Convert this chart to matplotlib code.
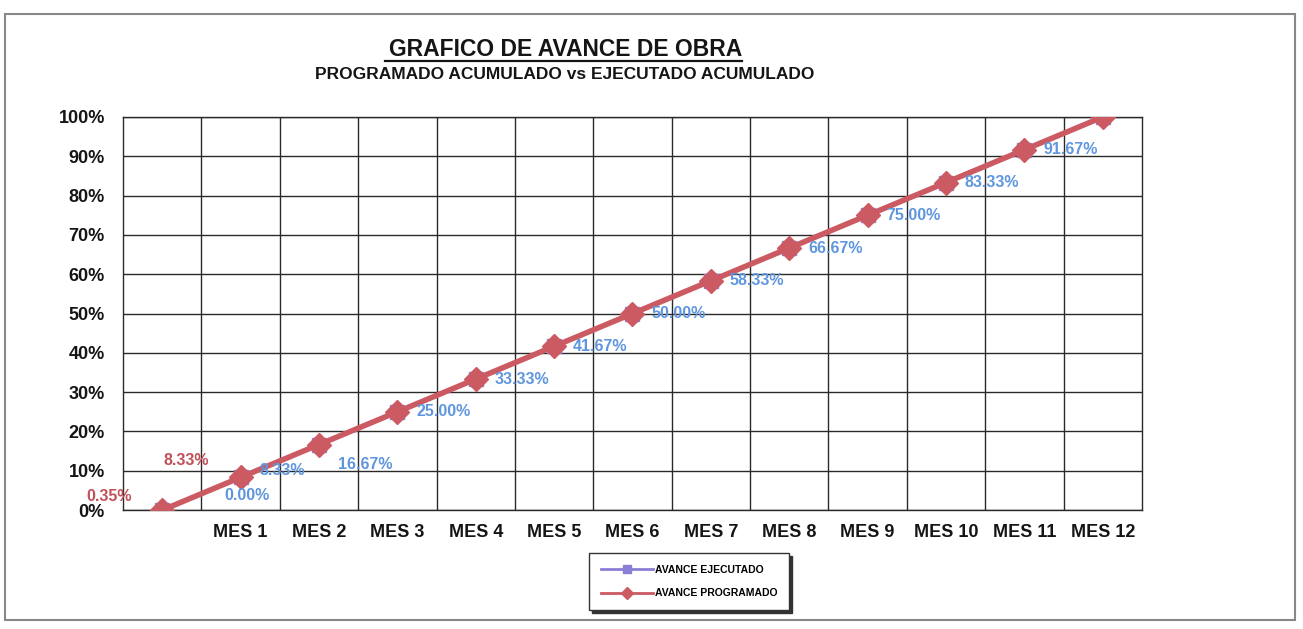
import matplotlib
matplotlib.use('Agg')
import matplotlib.pyplot as plt
from matplotlib.patches import Rectangle
from matplotlib.ticker import FixedLocator

plt.rcParams['font.family'] = ['Liberation Sans', 'DejaVu Sans']
plt.rcParams['font.weight'] = 'bold'

# Months of the schedule (first slot is the starting point, without label)
meses = ['', 'MES 1', 'MES 2', 'MES 3', 'MES 4', 'MES 5', 'MES 6',
         'MES 7', 'MES 8', 'MES 9', 'MES 10', 'MES 11', 'MES 12']

# Accumulated progress (fraction of the work)
avance_programado = [0.0, 0.0833, 0.1667, 0.25, 0.3333, 0.4167, 0.50,
                     0.5833, 0.6667, 0.75, 0.8333, 0.9167, 1.0]
avance_ejecutado = [0.0, 0.0833, 0.1667, 0.25, 0.3333, 0.4167, 0.50,
                    0.5833, 0.6667, 0.75, 0.8333, 0.9167, 1.0]

# Labels that were dragged around by hand in the original sheet
labels_sueltos = ['0.35%', '8.33%']

color_ejec = '#8a7fd6'
color_prog = '#cc5a62'
color_lbl_ejec = '#5f96de'
color_lbl_prog = '#c0505a'
color_txt = '#151515'

fig = plt.figure(figsize=(13.03, 6.29), dpi=100)
ax = fig.add_axes([0.0944, 0.189, 0.782, 0.625])

x = list(range(len(meses)))

ax.plot(x, avance_ejecutado, color=color_ejec, lw=2.5, marker='s', markersize=10,
        label='AVANCE EJECUTADO', zorder=3)
ax.plot(x, avance_programado, color=color_prog, lw=4, marker='D', markersize=12,
        label='AVANCE PROGRAMADO', zorder=4)

# data labels of the executed series, right of each point (dy in pixels, positive = down)
dy = [0, -7, 20, 0, 0, 0, 0, 0, 0, 0, 0, 0]
for i in range(1, 12):
    ax.annotate(f'{avance_ejecutado[i] * 100:.2f}%', (x[i], avance_ejecutado[i]),
                xytext=(19, -dy[i]), textcoords='offset pixels',
                ha='left', va='center', fontsize=11.5, color=color_lbl_ejec, zorder=5)

# starting point label, moved under MES 1
ax.annotate(f'{avance_ejecutado[0] * 100:.2f}%', (x[0], avance_ejecutado[0]),
            xytext=(85, 15), textcoords='offset pixels',
            ha='center', va='center', fontsize=11.5, color=color_lbl_ejec, zorder=5)

# programmed series labels left near the origin
ax.annotate(labels_sueltos[0], (x[0], avance_programado[0]),
            xytext=(-53, 14), textcoords='offset pixels',
            ha='center', va='center', fontsize=11.5, color=color_lbl_prog, zorder=5)
ax.annotate(labels_sueltos[1], (x[1], avance_programado[1]),
            xytext=(-54, 17), textcoords='offset pixels',
            ha='center', va='center', fontsize=11.5, color=color_lbl_prog, zorder=5)

# axes setup
ax.set_xlim(-0.5, len(meses) - 0.5)
ax.set_ylim(0, 1.0)
ax.set_xticks(x)
ax.set_xticklabels(meses, fontsize=13, fontweight='bold', color=color_txt)
ax.xaxis.set_minor_locator(FixedLocator([i + 0.5 for i in range(len(meses) - 1)]))
ax.set_yticks([i / 10 for i in range(11)])
ax.set_yticklabels([f'{i * 10}%' for i in range(11)], fontsize=13, fontweight='bold',
                   color=color_txt)
ax.tick_params(axis='both', which='both', length=0)
ax.tick_params(axis='y', pad=13)
ax.tick_params(axis='x', pad=10)

ax.grid(True, which='major', axis='y', color='#2a2a2a', lw=1)
ax.grid(True, which='minor', axis='x', color='#2a2a2a', lw=1)
for s in ax.spines.values():
    s.set_color('#2a2a2a')
    s.set_linewidth(1)

# titles
fig.text(0.4343, 0.922, 'GRAFICO DE AVANCE DE OBRA', ha='center', va='center',
         fontsize=16.5, fontweight='bold', color=color_txt)
fig.add_artist(plt.Line2D([0.2955, 0.5695], [0.9035, 0.9035], color=color_txt, lw=1.6))
fig.text(0.4335, 0.881, 'PROGRAMADO ACUMULADO vs EJECUTADO ACUMULADO', ha='center', va='center',
         fontsize=12.5, fontweight='bold', color=color_txt)

# legend with shadow
leg = fig.legend(loc='center', bbox_to_anchor=(0.529, 0.0755), ncol=1, fontsize=7.5,
                 frameon=True, fancybox=False, shadow={'color': '#333333', 'alpha': 1},
                 edgecolor='#333333', handlelength=5, labelspacing=1.3,
                 borderpad=1.1, handletextpad=0.2)
leg.get_frame().set_linewidth(1)
for t in leg.get_texts():
    t.set_fontweight('bold')
for h in leg.legend_handles:
    h.set_linewidth(2)
    h.set_markersize(6)

# outer chart border
fig.add_artist(Rectangle((0.004, 0.015), 0.99, 0.963, transform=fig.transFigure,
                         fill=False, edgecolor='#888888', lw=1.5))

plt.savefig('out.png', dpi=100)
